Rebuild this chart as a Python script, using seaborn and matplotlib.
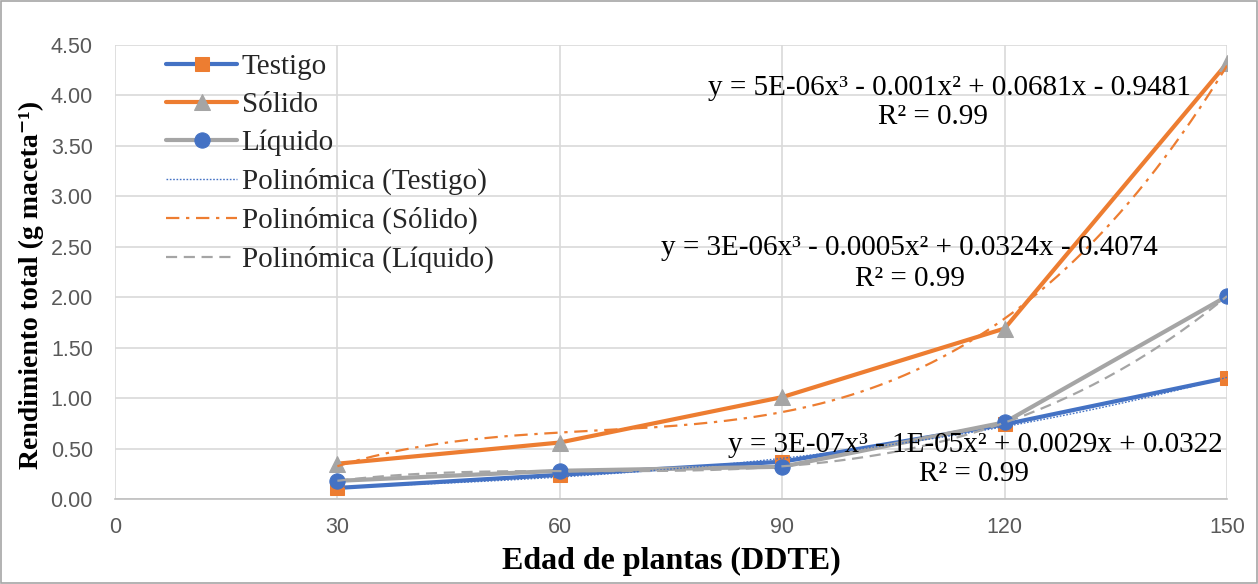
import numpy as np
import pandas as pd
import matplotlib
matplotlib.use("Agg")
import matplotlib.pyplot as plt
import seaborn as sns

# Data
dias = [30, 60, 90, 120, 150]
testigo = [0.11, 0.24, 0.37, 0.74, 1.20]
solido = [0.35, 0.56, 1.01, 1.69, 4.32]
liquido = [0.18, 0.28, 0.32, 0.76, 2.01]
series_names = ["Testigo", "Sólido", "Líquido"]
x_ticks = [0, 30, 60, 90, 120, 150]
y_ticks = [0.0, 0.5, 1.0, 1.5, 2.0, 2.5, 3.0, 3.5, 4.0, 4.5]
eq_texts = [
    "y = 5E-06x³ - 0.001x² + 0.0681x - 0.9481",
    "y = 3E-06x³ - 0.0005x² + 0.0324x - 0.4074",
    "y = 3E-07x³ - 1E-05x² + 0.0029x + 0.0322",
]
r2_text = "R² = 0.99"

BLUE = "#4472C4"
ORANGE = "#ED7D31"
GRAY = "#A5A5A5"

sns.set_theme(style="white")
serif = ["Liberation Serif", "DejaVu Serif"]
narrow = ["Liberation Sans Narrow", "Liberation Sans", "DejaVu Sans"]

fig = plt.figure(figsize=(12.58, 5.84), dpi=100)
ax = fig.add_axes([0.0914, 0.1455, 0.8840, 0.7775])

df = pd.DataFrame({"x": dias, "Testigo": testigo, "Sólido": solido, "Líquido": liquido})

styles = {
    "Testigo": dict(line=BLUE, mk="s", mc=ORANGE, ms=10),
    "Sólido": dict(line=ORANGE, mk="^", mc=GRAY, ms=11),
    "Líquido": dict(line=GRAY, mk="o", mc=BLUE, ms=11),
}
for name in series_names:
    st = styles[name]
    sns.lineplot(data=df, x="x", y=name, ax=ax, color=st["line"], lw=3,
                 marker=st["mk"], markersize=st["ms"], markerfacecolor=st["mc"],
                 markeredgecolor=st["mc"], label=name, zorder=3)

# Polynomial trendlines (order 3), as Excel does
xs = np.linspace(30, 150, 200)
trend_styles = {
    "Testigo": dict(color=BLUE, ls=(0, (1.2, 1.2)), lw=1.0),
    "Sólido": dict(color=ORANGE, ls=(0, (6, 3, 1.5, 3)), lw=1.6),
    "Líquido": dict(color=GRAY, ls=(0, (5, 3)), lw=1.6),
}
for name in series_names:
    coef = np.polyfit(dias, df[name], 3)
    ts = trend_styles[name]
    sns.lineplot(x=xs, y=np.polyval(coef, xs), ax=ax, color=ts["color"],
                 linestyle=ts["ls"], lw=ts["lw"], label=f"Polinómica ({name})", zorder=4)

ax.set_xlim(0, 150)
ax.set_ylim(0, 4.5)
ax.set_xticks(x_ticks)
ax.set_yticks(y_ticks)
ax.set_yticklabels([f"{v:.2f}" for v in y_ticks])
ax.grid(True, color="#D9D9D9", lw=1.2)
ax.set_axisbelow(True)
for s in ["top", "right", "left"]:
    ax.spines[s].set_visible(False)
ax.spines["bottom"].set_color("#BFBFBF")
ax.spines["bottom"].set_linewidth(1.2)
ax.tick_params(axis="both", length=0, labelsize=15.5, labelcolor="#595959")
ax.tick_params(axis="y", pad=16)
ax.tick_params(axis="x", pad=13)
for lab in ax.get_xticklabels() + ax.get_yticklabels():
    lab.set_family(narrow)

ax.set_xlabel("Edad de plantas (DDTE)", family=serif, fontsize=23, fontweight="bold",
              color="black")
ax.xaxis.set_label_coords(0.5, -0.105)
ax.set_ylabel("Rendimiento total (g maceta⁻¹)", family=serif, fontsize=20,
              fontweight="bold", color="black")
ax.yaxis.set_label_coords(-0.064, 0.471)

leg = ax.legend(loc="upper left", bbox_to_anchor=(0.03, 1.02), frameon=False,
                prop={"family": serif, "size": 21}, handlelength=2.45,
                labelspacing=0.40, handletextpad=0.15, borderaxespad=0.2)

txt_kw = dict(family=serif, fontsize=21, ha="center", va="center", color="black", zorder=6)
ax.text(112.6, 4.07, eq_texts[0], **txt_kw)
ax.text(110.3, 3.79, r2_text, **txt_kw)
ax.text(107.2, 2.49, eq_texts[1], **txt_kw)
ax.text(107.2, 2.18, r2_text, **txt_kw)
ax.text(116.1, 0.535, eq_texts[2], **txt_kw)
ax.text(115.8, 0.245, r2_text, **txt_kw)

# Figure border
fig.patches.append(plt.Rectangle((0.001, 0.001), 0.998, 0.997, transform=fig.transFigure,
                                 fill=False, edgecolor="#A6A6A6", lw=1.2))

fig.savefig("out.png", dpi=100)
